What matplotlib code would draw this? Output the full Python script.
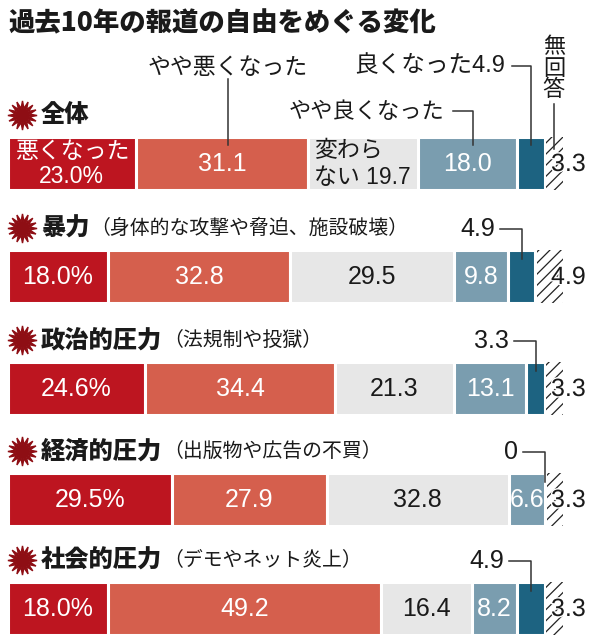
import matplotlib
matplotlib.use('Agg')
import matplotlib.pyplot as plt
import matplotlib.patheffects as pe
from matplotlib import font_manager
import numpy as np

# data
categories = ['全体', '暴力', '政治的圧力', '経済的圧力', '社会的圧力']
subtitles = ['', '（身体的な攻撃や脅迫、施設破壊）', '（法規制や投獄）', '（出版物や広告の不買）', '（デモやネット炎上）']
answers = ['悪くなった', 'やや悪くなった', '変わらない', 'やや良くなった', '良くなった', '無回答']
values = np.array([
    [23.0, 31.1, 19.7, 18.0, 4.9, 3.3],
    [18.0, 32.8, 29.5, 9.8, 4.9, 4.9],
    [24.6, 34.4, 21.3, 13.1, 3.3, 3.3],
    [29.5, 27.9, 32.8, 6.6, 0.0, 3.3],
    [18.0, 49.2, 16.4, 8.2, 4.9, 3.3],
])
colors = ['#BD1520', '#D55F4D', '#E7E7E7', '#7A9DAF', '#1D6381', 'white']
title = '過去10年の報道の自由をめぐる変化'

names = {f.name for f in font_manager.fontManager.ttflist}
numfont = 'Liberation Sans Narrow' if 'Liberation Sans Narrow' in names else 'Liberation Sans'
JP = 'Noto Sans CJK JP'
mix = [numfont, JP]
plt.rcParams['font.family'] = [JP, 'DejaVu Sans']
plt.rcParams['hatch.linewidth'] = 0.9

W, H = 593, 640
x0, pxw = 8, 555  # bar area in pixels
fig = plt.figure(figsize=(W / 100, H / 100), dpi=100)
ax = fig.add_axes([x0 / W, 0, pxw / W, 1])
ax.set_xlim(0, 100)
ax.set_ylim(H, 0)
ax.axis('off')


def X(px):
    return (px - x0) * 100 / pxw


def P(d):
    return x0 + d * pxw / 100


dark = '#1a1a1a'
ycent = [163, 276, 388, 499, 608]
bh = 53

ax.text(0, 23, title, fontsize=19, fontweight='black', va='center', ha='left', color=dark)

for i, cat in enumerate(categories):
    yc = ycent[i]
    row = values[i]
    lefts = np.concatenate([[0], np.cumsum(row)[:-1]])
    for j in range(6):
        if j == 5:
            ax.barh(yc, row[j], left=lefts[j] + 0.25, height=bh, color='white',
                    edgecolor='#222222', linewidth=0, hatch='///')
        elif row[j] > 0:
            ax.barh(yc, row[j], left=lefts[j], height=bh, color=colors[j],
                    edgecolor='white', linewidth=2.2)
    # header
    ty = yc - 48
    ax.plot(X(21.5), ty, marker=(16, 1, 0), ms=21, color='#8E0E14', clip_on=False)
    ax.text(X(41), ty, cat, fontsize=17.5, fontweight='black', va='center', ha='left', color=dark)
    if subtitles[i]:
        ax.text(X(41 + len(cat) * 24.4), ty, subtitles[i], fontsize=14.3, va='center',
                ha='left', color=dark)
    # values in bars
    for j in range(4):
        cx = lefts[j] + row[j] / 2
        tc = dark if j == 2 else 'white'
        if i == 0 and j == 0:
            ax.text(cx, yc + 1, '悪くなった\n23.0%', fontsize=16.5, family=mix, color='white',
                    ha='center', va='center', linespacing=1.1)
        elif i == 0 and j == 2:
            ax.text(lefts[j] + 1.0, yc + 1, '変わら\nない 19.7', fontsize=16.5, family=mix,
                    color=dark, ha='left', va='center', linespacing=1.2)
        else:
            s = f'{row[j]:.1f}%' if j == 0 else f'{row[j]:.1f}'
            ax.text(cx, yc + 1, s, fontsize=18, family=mix, color=tc, ha='center', va='center')
    # no-answer value
    ax.text(X(551), yc + 1, f'{row[5]:.1f}', fontsize=18, family=mix, color=dark,
            ha='left', va='center',
            path_effects=[pe.withStroke(linewidth=2, foreground='white')])
    # callout for "良くなった"
    top = yc - bh / 2
    vx = lefts[4] + row[4] / 2
    if i == 0:
        ly = 66
        ax.plot([X(512), vx, vx], [ly, ly, top + 8], color='#333333', lw=1.1)
        ax.text(X(505), ly, f'良くなった{row[4]:.1f}', fontsize=17, family=mix,
                ha='right', va='center', color=dark)
    else:
        ly = ty + 1
        vpx = P(vx)
        ax.plot([X(vpx - 22), vx, vx], [ly, ly, top + 9], color='#333333', lw=1.1)
        s = '0' if row[4] == 0 else f'{row[4]:.1f}'
        ax.text(X(vpx - 27), ly, s, fontsize=18, family=mix, ha='right', va='center', color=dark)

# top labels for 全体
row = values[0]
lefts = np.concatenate([[0], np.cumsum(row)[:-1]])
top = ycent[0] - bh / 2
sx = lefts[1] + row[1] / 2 + 1
ax.plot([sx, sx], [79, top + 8], color='#333333', lw=1.1)
ax.text(sx, 67, 'やや悪くなった', fontsize=16.5, ha='center', va='center', color=dark)
lx = lefts[3] + row[3] / 2 + 1
ax.plot([X(453), lx, lx], [111, 111, top + 8], color='#333333', lw=1.1)
ax.text(X(444), 111, 'やや良くなった', fontsize=16, ha='right', va='center', color=dark)
hx = lefts[5] + row[5] / 2
ax.plot([hx, hx], [104, top + 12], color='#333333', lw=1.1)
for k, ch in enumerate('無回答'):
    ax.text(hx, 47 + k * 21.5, ch, fontsize=16, ha='center', va='center', color=dark)

fig.savefig('out.png', dpi=100)
